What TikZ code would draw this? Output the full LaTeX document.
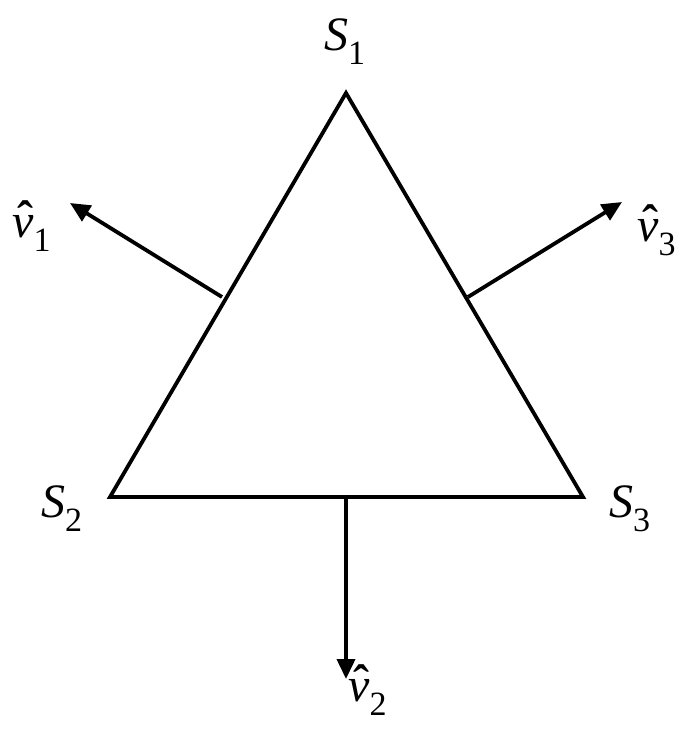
\documentclass[tikz,border=0pt]{standalone}
\usepackage{fontspec}
\setmainfont{Liberation Serif}
\usetikzlibrary{arrows.meta}
\newcommand{\subx}[1]{\raisebox{-0.3em}{\fontsize{34}{34}\selectfont #1}}
\newcommand{\nuhat}[1]{\makebox[0pt][l]{\hspace{5pt}\raisebox{3pt}{\bfseries ˆ}}\textit{ν}\subx{#1}}
\begin{document}
\begin{tikzpicture}[x=1pt,y=-1pt,
  edge/.style={line width=3.8pt, line join=miter},
  normal/.style={line width=3.8pt, -{Triangle[length=20pt,width=18pt]}},
  lbl/.style={font=\fontsize{48}{54}\selectfont, inner sep=0pt, anchor=base west}]
\useasboundingbox (0,0) rectangle (692,732);
\coordinate (s1) at (346,93);
\coordinate (s2) at (110,497);
\coordinate (s3) at (583,497);
\draw[edge] (s1) -- (s2) -- (s3) -- cycle;
\coordinate (m1) at (222,297);
\coordinate (e1) at (70,203);
\coordinate (m3) at (468,297);
\coordinate (e3) at (622,202);
\coordinate (m2) at (346,497);
\coordinate (e2) at (346,679);
\draw[normal] (m1) -- (e1);
\draw[normal] (m3) -- (e3);
\draw[normal] (m2) -- (e2);
\node[lbl] (l1) at (324,50) {\textit{S}\subx{1}};
\node[lbl] (l2) at (41,517) {\textit{S}\subx{2}};
\node[lbl] (l3) at (609,517) {\textit{S}\subx{3}};
\node[lbl] (n1) at (12,237) {\nuhat{1}};
\node[lbl] (n3) at (637,241) {\nuhat{3}};
\node[lbl] (n2) at (348,701) {\nuhat{2}};
\end{tikzpicture}
\end{document}
